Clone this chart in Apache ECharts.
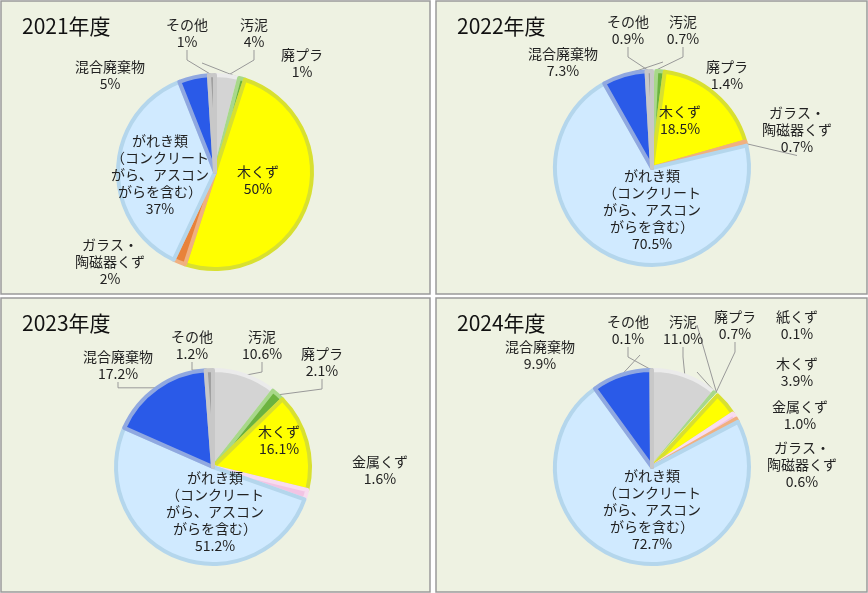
<!DOCTYPE html>
<html><head><meta charset="utf-8">
<script src="https://cdn.jsdelivr.net/npm/echarts@6/dist/echarts.min.js"></script>
<style>body{margin:0;background:#fff}#c{width:868px;height:593px}</style>
</head><body><div id="c"></div>
<script>
var years = ['2021年度', '2022年度', '2023年度', '2024年度'];
var gareki = 'がれき類\n（コンクリート\nがら、アスコン\nがらを含む）';
var names2021 = ['汚泥', '廃プラ', '木くず', 'ガラス・\n陶磁器くず', gareki, '混合廃棄物', 'その他'];
var vals2021 = [4, 1, 50, 2, 37, 5, 1];
var names2022 = ['汚泥', '廃プラ', '木くず', 'ガラス・\n陶磁器くず', gareki, '混合廃棄物', 'その他'];
var vals2022 = [0.7, 1.4, 18.5, 0.7, 70.5, 7.3, 0.9];
var names2023 = ['汚泥', '廃プラ', '木くず', '金属くず', gareki, '混合廃棄物', 'その他'];
var vals2023 = [10.6, 2.1, 16.1, 1.6, 51.2, 17.2, 1.2];
var names2024 = ['汚泥', '廃プラ', '紙くず', '木くず', '金属くず', 'ガラス・\n陶磁器くず', gareki, '混合廃棄物', 'その他'];
var vals2024 = [11.0, 0.7, 0.1, 3.9, 1.0, 0.6, 72.7, 9.9, 0.1];

var colors = {
  '汚泥': ['#d4d4d4', '#ebebeb'], '廃プラ': ['#6cb33f', '#a8d88a'], '紙くず': ['#f4f4f4', '#ffffff'],
  '木くず': ['#ffff00', '#d8e030'], '金属くず': ['#f2c4e4', '#f8dcef'], 'ガラス・\n陶磁器くず': ['#e8823a', '#f0b080'],
  '混合廃棄物': ['#2a5ae8', '#90a8e0'], 'その他': ['#a0a0a0', '#c8c8c8']
};
colors[gareki] = ['#d0eaff', '#b4d6ec'];

// label positions [x, y] per panel, by name
var labelPos = [
  {'その他': [187, 33], '汚泥': [254, 33], '廃プラ': [302, 63], '混合廃棄物': [110, 75], '木くず': [258, 180], 'ガラス・\n陶磁器くず': [110, 262]},
  {'その他': [628, 30], '汚泥': [683, 30], '廃プラ': [727, 75], '混合廃棄物': [563, 62], '木くず': [680, 120], 'ガラス・\n陶磁器くず': [797, 130]},
  {'その他': [192, 345], '汚泥': [262, 345], '廃プラ': [322, 362], '混合廃棄物': [118, 365], '木くず': [279, 440], '金属くず': [380, 470]},
  {'その他': [628, 330], '汚泥': [683, 330], '廃プラ': [735, 325], '紙くず': [797, 325], '木くず': [797, 372], '金属くず': [800, 415], 'ガラス・\n陶磁器くず': [802, 465], '混合廃棄物': [540, 355]}
];
var garekiPos = [[160, 175], [652, 210], [215, 512], [652, 510]];
var centers = [[215, 172], [652, 168], [213, 467], [652, 467]];
var decimals = [0, 1, 1, 1];
var allNames = [names2021, names2022, names2023, names2024];
var allVals = [vals2021, vals2022, vals2023, vals2024];

function pos(si, name) {
  if (name === gareki) return garekiPos[si];
  return labelPos[si][name];
}

var series = allNames.map(function (names, si) {
  return {
    type: 'pie', radius: 97, center: centers[si], startAngle: 90, clockwise: true,
    animation: false,
    label: {
      color: '#222', fontSize: 14, lineHeight: 17, align: 'center', overflow: 'none', width: 200,
      fontFamily: 'Noto Sans CJK JP',
      formatter: function (p) { return p.name + '\n' + p.value.toFixed(decimals[si]) + '%'; }
    },
    labelLine: { show: true, length: 10, length2: 10, lineStyle: { color: '#999', width: 1 } },
    labelLayout: function (p) {
      var xy = pos(si, p.name || allNames[si][p.dataIndex]);
      return { x: xy[0], y: xy[1], align: 'center', verticalAlign: 'middle' };
    },
    data: names.map(function (n, i) {
      var inside = n === gareki || (n === '木くず' && si < 3);
      return {
        name: n, value: allVals[si][i],
        itemStyle: { color: colors[n][0], borderColor: colors[n][1], borderWidth: 4 },
        labelLine: { show: !inside }
      };
    })
  };
});

var panels = [[1, 1, 429, 293], [436, 1, 431, 293], [1, 298, 429, 294], [436, 298, 431, 294]];
var chart = echarts.init(document.getElementById('c'));
chart.setOption({
  backgroundColor: '#ffffff',
  graphic: panels.map(function (r) {
    return { type: 'rect', z: -10, shape: { x: r[0], y: r[1], width: r[2], height: r[3] },
      style: { fill: '#eef2e2', stroke: '#9a9a9a', lineWidth: 1.5 } };
  }),
  title: years.map(function (y, i) {
    return { text: y, left: panels[i][0] + 16, top: panels[i][1] + 10,
      textStyle: { fontSize: 21, fontWeight: 'normal', color: '#111', fontFamily: 'Noto Sans CJK JP' } };
  }),
  series: series
});
</script></body></html>
